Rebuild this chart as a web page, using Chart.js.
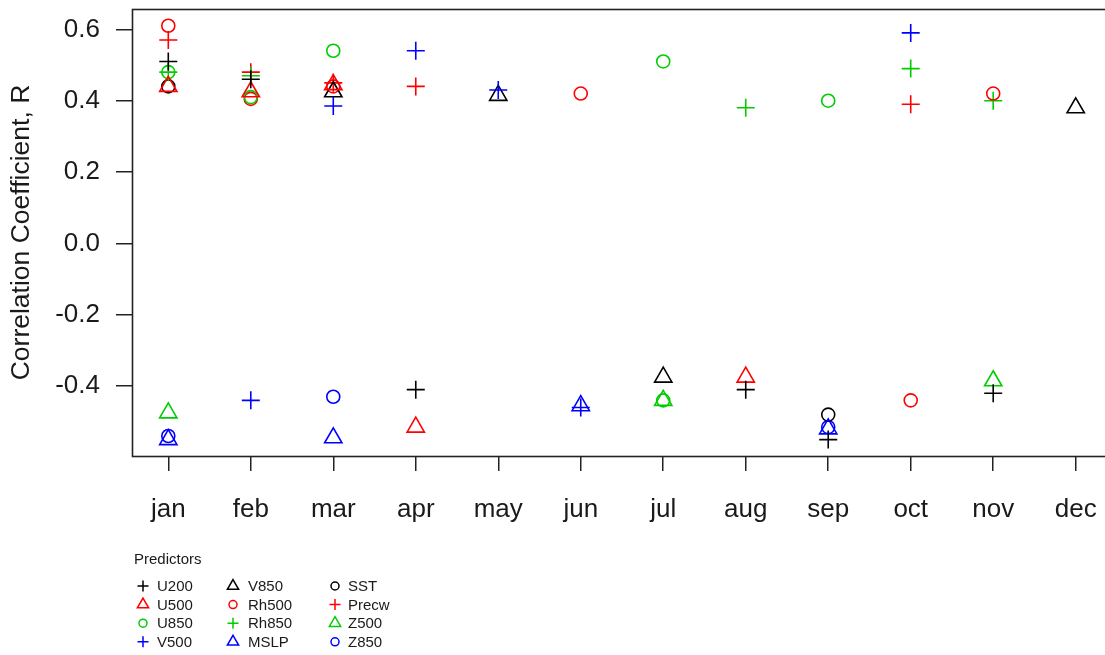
<!DOCTYPE html>
<html>
<head>
<meta charset="utf-8">
<script src="https://cdn.jsdelivr.net/npm/chart.js@4.4.1/dist/chart.umd.min.js"></script>
<style>
  html, body { margin: 0; padding: 0; background: #ffffff; overflow: hidden; }
  #wrap { width: 1112px; height: 655px; }
</style>
</head>
<body>
<div id="wrap"><canvas id="chart" width="1112" height="655"></canvas></div>
<script>
// Months on the x axis and y tick values
const months = ['jan', 'feb', 'mar', 'apr', 'may', 'jun', 'jul', 'aug', 'sep', 'oct', 'nov', 'dec'];
const yTicks = [-0.4, -0.2, 0.0, 0.2, 0.4, 0.6];

// Correlation coefficient of each predictor per month (null = not selected;
// a list holds several values in the same month)
const U200  = [0.51, 0.46, null, -0.41, null, null, null, -0.41, -0.55, null, -0.42, null];
const U500  = [0.44, 0.425, 0.445, -0.515, null, null, null, -0.375, null, null, null, null];
const U850  = [0.48, 0.41, 0.54, null, null, null, [0.51, -0.44], null, 0.40, null, null, null];
const V500  = [null, -0.44, 0.385, 0.54, 0.43, -0.46, null, null, null, 0.59, null, null];
const V850  = [null, null, 0.425, null, 0.415, null, -0.375, null, null, null, null, 0.38];
const Rh500 = [0.61, 0.405, 0.44, null, null, 0.42, null, null, null, -0.44, 0.42, null];
const Rh850 = [0.48, 0.47, null, null, null, null, null, 0.38, null, 0.49, 0.40, null];
const MSLP  = [-0.55, null, -0.545, null, null, -0.455, null, null, -0.52, null, null, null];
const SST   = [0.44, null, null, null, null, null, null, null, -0.48, null, null, null];
const Precw = [0.57, 0.48, 0.45, 0.44, null, null, null, null, null, 0.39, null, null];
const Z500  = [-0.475, null, null, null, null, null, -0.44, null, null, null, -0.385, null];
const Z850  = [-0.54, null, -0.43, null, null, null, null, null, -0.515, null, null, null];

const BLACK = '#000000', RED = '#ff0000', GREEN = '#00cd00', BLUE = '#0000ff';

const predictors = [
  { label: 'U200',  values: U200,  color: BLACK, shape: 'cross' },
  { label: 'U500',  values: U500,  color: RED,   shape: 'triangle' },
  { label: 'U850',  values: U850,  color: GREEN, shape: 'circle' },
  { label: 'V500',  values: V500,  color: BLUE,  shape: 'cross' },
  { label: 'V850',  values: V850,  color: BLACK, shape: 'triangle' },
  { label: 'Rh500', values: Rh500, color: RED,   shape: 'circle' },
  { label: 'Rh850', values: Rh850, color: GREEN, shape: 'cross' },
  { label: 'MSLP',  values: MSLP,  color: BLUE,  shape: 'triangle' },
  { label: 'SST',   values: SST,   color: BLACK, shape: 'circle' },
  { label: 'Precw', values: Precw, color: RED,   shape: 'cross' },
  { label: 'Z500',  values: Z500,  color: GREEN, shape: 'triangle' },
  { label: 'Z850',  values: Z850,  color: BLUE,  shape: 'circle' }
];

const plotRadius = { cross: 9, triangle: 10, circle: 6.5 };
const keyRadius  = { cross: 5.5, triangle: 6.5, circle: 4 };
const FONT = '"Liberation Sans", Arial, Helvetica, sans-serif';

function toPoints(values) {
  const pts = [];
  values.forEach((v, i) => {
    if (v === null) return;
    (Array.isArray(v) ? v : [v]).forEach(y => pts.push({ x: i + 1, y: y }));
  });
  return pts;
}

const datasets = predictors.map(p => ({
  label: p.label,
  data: toPoints(p.values),
  pointStyle: p.shape,
  pointRadius: plotRadius[p.shape],
  pointHoverRadius: plotRadius[p.shape],
  pointBorderWidth: 1.6,
  pointBorderColor: p.color,
  pointBackgroundColor: 'rgba(0,0,0,0)',
  borderColor: p.color,
  backgroundColor: 'rgba(0,0,0,0)',
  showLine: false
}));

// Plain outline symbols for the key
function drawSymbol(ctx, shape, x, y, r) {
  ctx.beginPath();
  if (shape === 'cross') {
    ctx.moveTo(x - r, y); ctx.lineTo(x + r, y);
    ctx.moveTo(x, y - r); ctx.lineTo(x, y + r);
  } else if (shape === 'triangle') {
    const w = r * Math.sqrt(3) / 2;
    ctx.moveTo(x, y - r);
    ctx.lineTo(x + w, y + r / 2);
    ctx.lineTo(x - w, y + r / 2);
    ctx.closePath();
  } else {
    ctx.arc(x, y, r, 0, Math.PI * 2);
  }
  ctx.stroke();
}

// Frame around the plotting region
const framePlugin = {
  id: 'frame',
  afterDatasetsDraw(chart) {
    const a = chart.chartArea, ctx = chart.ctx;
    ctx.save();
    ctx.strokeStyle = '#222222';
    ctx.lineWidth = 1.6;
    ctx.strokeRect(Math.round(a.left) + 0.5, Math.round(a.top) + 0.5,
                   Math.round(a.right - a.left), Math.round(a.bottom - a.top));
    ctx.restore();
  }
};

// Three-column key titled "Predictors" under the x axis
const keyPlugin = {
  id: 'predictorKey',
  afterDraw(chart) {
    const ctx = chart.ctx;
    const symX = [143, 233, 335], txtX = [157, 248, 348];
    ctx.save();
    ctx.font = '15px ' + FONT;
    ctx.fillStyle = '#1a1a1a';
    ctx.textBaseline = 'middle';
    ctx.textAlign = 'left';
    ctx.fillText('Predictors', 134, 560);
    predictors.forEach((p, i) => {
      const col = Math.floor(i / 4), row = i % 4;
      const y = 586 + row * 18.6;
      ctx.strokeStyle = p.color;
      ctx.lineWidth = 1.5;
      drawSymbol(ctx, p.shape, symX[col], y, keyRadius[p.shape]);
      ctx.fillStyle = '#1a1a1a';
      ctx.fillText(p.label, txtX[col], y + 1);
    });
    ctx.restore();
  }
};

new Chart(document.getElementById('chart'), {
  type: 'scatter',
  data: { datasets: datasets },
  options: {
    responsive: false,
    animation: false,
    devicePixelRatio: 1,
    layout: { autoPadding: false, padding: { left: 0, top: 9, right: 0, bottom: 0 } },
    plugins: { legend: { display: false }, tooltip: { enabled: false } },
    scales: {
      x: {
        type: 'linear',
        position: 'bottom',
        min: 0.56,
        max: 12.44,
        afterBuildTicks: s => { s.ticks = months.map((m, i) => ({ value: i + 1 })); },
        afterFit: s => { s.height = 199; s.paddingLeft = 0; s.paddingRight = 0; },
        border: { display: false },
        grid: { drawOnChartArea: false, drawTicks: true, tickLength: 15, color: '#222222', lineWidth: 1.5 },
        ticks: {
          autoSkip: false,
          maxRotation: 0,
          padding: 23,
          color: '#1a1a1a',
          font: { family: FONT, size: 26 },
          callback: v => months[Math.round(v) - 1]
        }
      },
      y: {
        type: 'linear',
        min: -0.596,
        max: 0.657,
        afterBuildTicks: s => { s.ticks = yTicks.map(v => ({ value: v })); },
        afterFit: s => { s.width = 132; s.paddingTop = 0; s.paddingBottom = 0; },
        border: { display: false },
        grid: { drawOnChartArea: false, drawTicks: true, tickLength: 16, color: '#222222', lineWidth: 1.5 },
        ticks: {
          padding: 16,
          color: '#1a1a1a',
          font: { family: FONT, size: 26 },
          callback: v => Number(v).toFixed(1)
        },
        title: {
          display: true,
          text: 'Correlation Coefficient, R',
          color: '#1a1a1a',
          font: { family: FONT, size: 26.5 },
          padding: { top: 6, bottom: 0 }
        }
      }
    }
  },
  plugins: [framePlugin, keyPlugin]
});
</script>
</body>
</html>
